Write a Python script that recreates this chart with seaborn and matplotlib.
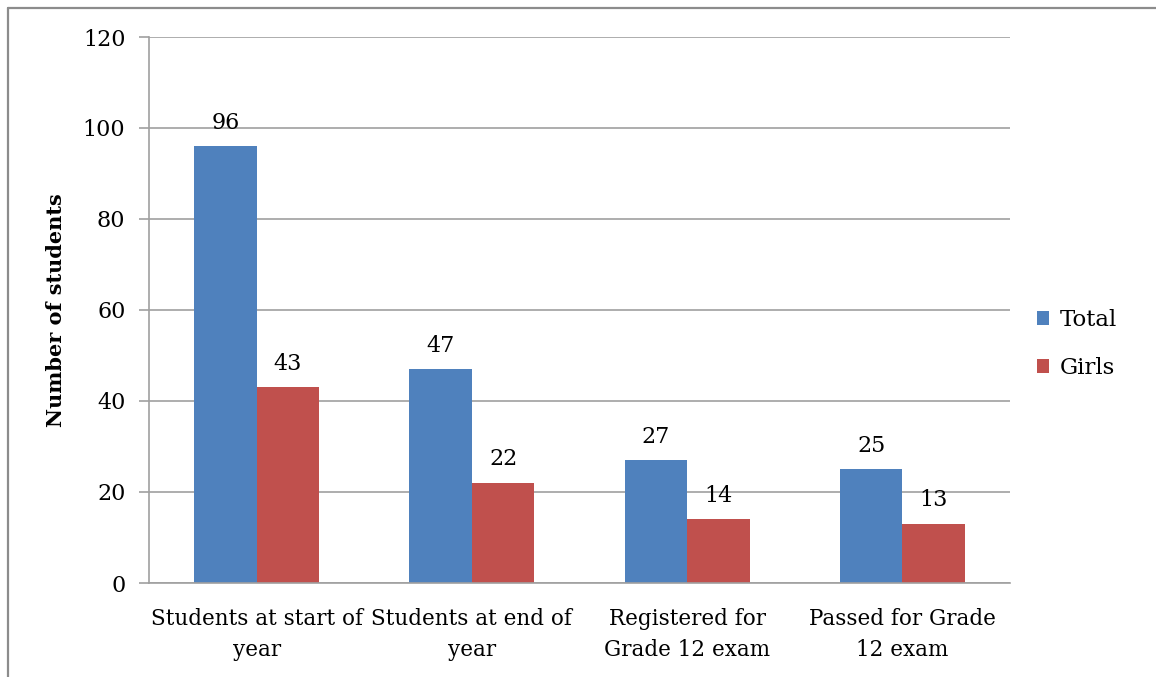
import pandas as pd
import matplotlib.pyplot as plt
import seaborn as sns
from matplotlib.lines import Line2D

# data
categories = ['Students at start of\nyear', 'Students at end of\nyear',
              'Registered for\nGrade 12 exam', 'Passed for Grade\n12 exam']
total = [96, 47, 27, 25]
girls = [43, 22, 14, 13]
series = ['Total', 'Girls']
colors = ['#4F81BD', '#C0504D']

df = pd.DataFrame({
    'category': categories * 2,
    'group': ['Total'] * 4 + ['Girls'] * 4,
    'count': total + girls,
})

sns.set_style('white')
plt.rcParams['font.family'] = ['DejaVu Serif']
plt.rcParams['text.color'] = 'black'
plt.rcParams['axes.labelcolor'] = 'black'
plt.rcParams['xtick.labelcolor'] = 'black'
plt.rcParams['ytick.labelcolor'] = 'black'

fig = plt.figure(figsize=(11.56, 6.77), dpi=100)
ax = fig.add_axes([149 / 1156, 1 - 583 / 677, (1010 - 149) / 1156, (583 - 37) / 677])

sns.barplot(data=df, x='category', y='count', hue='group', hue_order=series,
            palette=colors, width=0.58, saturation=1, linewidth=0, ax=ax, legend=True)

for cont in ax.containers:
    ax.bar_label(cont, padding=9, fontsize=16, color='black')

ax.set_ylim(0, 120)
ax.set_yticks(range(0, 121, 20))
ax.set_xlim(-0.5, 3.5)
ax.yaxis.grid(True, color='#a0a0a0', linewidth=1.2)
ax.set_axisbelow(True)

for s in ['top', 'right']:
    ax.spines[s].set_visible(False)
for s in ['left', 'bottom']:
    ax.spines[s].set_color('#a0a0a0')
    ax.spines[s].set_linewidth(1.2)

# category ticks sit between the groups, labels in the middle
ax.set_xticks([-0.5, 0.5, 1.5, 2.5, 3.5], minor=True)
ax.tick_params(axis='x', which='minor', length=7, color='#a0a0a0', width=1.2)
ax.tick_params(axis='x', which='major', length=0, pad=18, labelsize=15.5)
ax.tick_params(axis='y', length=7, color='#a0a0a0', width=1.2, pad=10, labelsize=16,
               left=True)
for lbl in ax.get_xticklabels():
    lbl.set_linespacing(1.55)

ax.set_xlabel('')
ax.set_ylabel('Number of students', fontsize=15, fontweight='bold', labelpad=12)

leg = ax.legend(loc='center left', bbox_to_anchor=(1016 / 1156, 1 - 344 / 677),
                bbox_transform=fig.transFigure, frameon=False, fontsize=16.5,
                handlelength=0.55, handleheight=0.55, handletextpad=0.45,
                labelspacing=1.15)

# outer chart frame (left and top only, as in the reference)
fig.add_artist(Line2D([7.5 / 1156, 7.5 / 1156], [0, 1 - 7.5 / 677],
                      transform=fig.transFigure, color='#8c8c8c', linewidth=1.6))
fig.add_artist(Line2D([7.5 / 1156, 1], [1 - 7.5 / 677, 1 - 7.5 / 677],
                      transform=fig.transFigure, color='#8c8c8c', linewidth=1.6))

fig.savefig('out.png', dpi=100)
